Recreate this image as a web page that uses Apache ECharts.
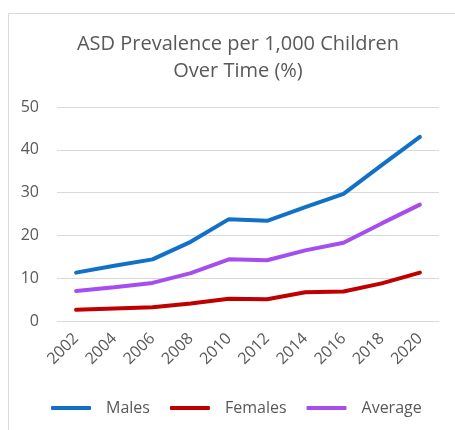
<!DOCTYPE html>
<html>
<head>
<meta charset="utf-8">
<script src="https://cdn.jsdelivr.net/npm/echarts@6/dist/echarts.min.js"></script>
<style>
html,body{margin:0;padding:0;background:#fff;}
#chart{width:455px;height:430px;}
</style>
</head>
<body>
<div id="chart"></div>
<script>
const years = ['2002','2004','2006','2008','2010','2012','2014','2016','2018','2020'];
const males = [11.3, 12.9, 14.4, 18.5, 23.8, 23.4, 26.6, 29.7, 36.4, 43.0];
const females = [2.6, 2.9, 3.2, 4.1, 5.2, 5.1, 6.7, 6.9, 8.8, 11.3];
const average = [7.0, 7.9, 8.9, 11.2, 14.4, 14.2, 16.5, 18.3, 22.8, 27.2];
const yTicks = [0, 10, 20, 30, 40, 50];

const FONT = '"Open Sans", sans-serif';
const chart = echarts.init(document.getElementById('chart'), null, {renderer:'canvas'});
chart.setOption({
  backgroundColor: '#ffffff',
  animation: false,
  graphic: [{
    type: 'rect',
    shape: {x: 8.5, y: 13.5, width: 480, height: 450},
    style: {fill: 'none', stroke: '#d9d9d9', lineWidth: 1},
    silent: true, z: -1
  }],
  title: {
    text: 'ASD Prevalence per 1,000 Children\nOver Time (%)',
    left: 233,
    textAlign: 'center',
    top: 26,
    textStyle: {fontFamily: FONT, fontSize: 20, fontWeight: 'normal', color: '#595959', lineHeight: 27}
  },
  legend: {
    left: 46,
    top: 395,
    itemWidth: 40,
    itemHeight: 4,
    itemGap: 20,
    icon: 'roundRect',
    textStyle: {fontFamily: FONT, fontSize: 16, color: '#595959', padding: [0, 0, 0, 10]},
    data: ['Males', 'Females', 'Average']
  },
  grid: {left: 57, right: 16, top: 107, bottom: 109, containLabel: false},
  xAxis: {
    type: 'category',
    data: years,
    boundaryGap: true,
    axisLine: {show: true, lineStyle: {color: '#d9d9d9', width: 1}},
    axisTick: {show: false},
    axisLabel: {rotate: 45, margin: 15, fontFamily: FONT, fontSize: 16, color: '#595959', interval: 0}
  },
  yAxis: {
    type: 'value',
    min: yTicks[0],
    max: yTicks[yTicks.length - 1],
    interval: 10,
    axisLine: {show: false},
    axisTick: {show: false},
    splitLine: {lineStyle: {color: '#d9d9d9', width: 1}},
    axisLabel: {margin: 18, fontFamily: FONT, fontSize: 16, color: '#595959'}
  },
  series: [
    {name: 'Males', type: 'line', data: males, symbol: 'none', lineStyle: {color: '#1170C8', width: 4, cap: 'round'}, itemStyle: {color: '#1170C8'}},
    {name: 'Females', type: 'line', data: females, symbol: 'none', lineStyle: {color: '#C00000', width: 4, cap: 'round'}, itemStyle: {color: '#C00000'}},
    {name: 'Average', type: 'line', data: average, symbol: 'none', lineStyle: {color: '#A64DF0', width: 4, cap: 'round'}, itemStyle: {color: '#A64DF0'}}
  ]
});
</script>
</body>
</html>
